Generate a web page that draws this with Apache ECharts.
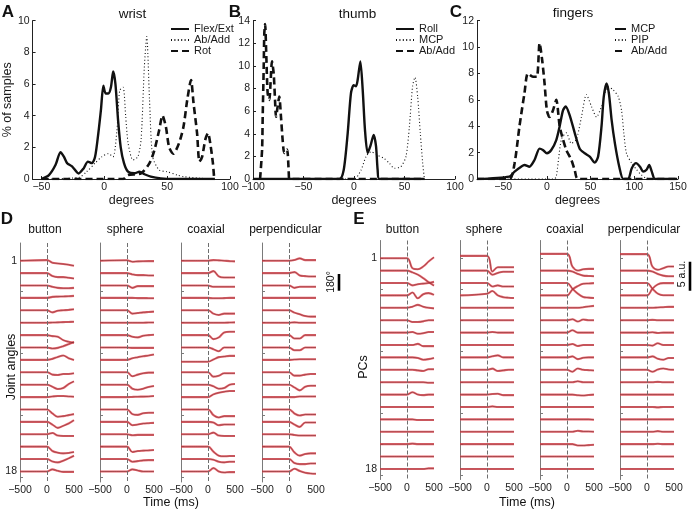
<!DOCTYPE html>
<html><head><meta charset="utf-8">
<script src="https://cdn.jsdelivr.net/npm/echarts@6/dist/echarts.min.js"></script>
<style>html,body{margin:0;padding:0;background:#fff}#c{width:692px;height:512px}</style>
</head><body><div id="c"></div>
<script>
// ---------- Panel A: wrist (degrees, % of samples) ----------
const wristFlexExt = [[-50,0],[-44,0.25],[-38.7,0.9],[-34.8,1.7],[-32,1.4],[-29.5,1.0],[-25.6,0.8],[-20.4,0.35],[-16.4,0.67],[-13,1.1],[-9.9,1.0],[-7.3,1.4],[-4.7,2.9],[-2.6,4.4],[-0.7,5.9],[1.1,5.4],[3.2,5.4],[5.3,5.8],[7.1,6.8],[8.9,6.0],[11,3.7],[13.1,2.0],[15.7,1.0],[18.9,0.46],[24,0.36],[28,0.46],[32,0.3],[37,0.15],[45,0.04],[55,0],[88,0]];
const wristAbAdd = [[-50,0],[-20,0.1],[-14,0.46],[-7.3,1.0],[-2,1.4],[3.2,1.6],[7,1.4],[10,3],[12.3,5.6],[15,5.8],[17,4],[19,2.25],[22.8,1.2],[26.7,1.4],[29.3,2.5],[31.9,7.1],[33.8,9.0],[36,5],[38.5,1.4],[43.7,0.57],[50,0.46],[58,0.25],[63,0.15],[76,0.05],[88,0]];
const wristRot = [[-50,0],[15,0],[18.9,0.25],[29.3,0.36],[36,1.0],[39.8,1.8],[43.7,3.1],[46.3,4.0],[49,3.3],[51.6,2.0],[55,1.6],[59.4,2.25],[63,3.3],[66,5.0],[69,6.25],[71,4.8],[73.8,2.9],[75.7,1.1],[77.8,1.4],[80.4,2.5],[82.5,2.9],[84.3,2.25],[86.4,1.0],[87.4,0.04]];
// ---------- Panel B: thumb ----------
const thumbRoll = [[-100,0],[-14.5,0],[-10.2,0.8],[-6.3,4.0],[-3,7.6],[-0.3,8.3],[2,8.2],[3.6,8.75],[6.3,10.4],[8.6,7.9],[10.9,4.3],[13.5,2.3],[16.2,2.9],[19.5,3.9],[21.8,2.9],[23.4,0.8],[25,0],[70,0]];
const thumbMCP = [[-100,0],[0,0],[7,0.8],[12,2.0],[16.8,2.4],[23.4,2.1],[30,1.8],[35,1.4],[40,0.95],[46.5,1.1],[51.5,2.0],[54.8,4.6],[58,8.2],[60.4,9.0],[63,7.3],[65.7,4.0],[68,1.4],[69.6,0.06]];
const thumbAbAdd = [[-93,0],[-91,2.6],[-90.4,5.5],[-89.4,9.9],[-88.8,12.9],[-88,13.7],[-87,11.4],[-85.5,7.6],[-83.8,7.0],[-82.8,8.2],[-81.2,10.4],[-79.5,9.3],[-78.2,7.0],[-77.2,5.5],[-75.6,6.4],[-74,7.3],[-72.3,5.5],[-70.6,3.4],[-69,2.3],[-66.3,2.6],[-64.7,0.8],[-64,0],[70,0]];
// ---------- Panel C: fingers ----------
const fingersMCP = [[-80,0],[-43,0.18],[-37,0.56],[-29.5,0.93],[-25.7,1.06],[-20,0.93],[-14.2,1.44],[-8.4,2.3],[-4.6,2.2],[0,1.95],[5,2.2],[10.7,2.95],[14.6,4.0],[18.4,5.2],[21.5,5.5],[26,4.85],[31.8,3.5],[37.5,2.3],[43.3,1.95],[49,1.7],[54.8,1.24],[58.6,1.7],[62.5,4.0],[65,6.2],[68.2,7.25],[70.9,6.5],[74,4.5],[77.8,2.7],[82.8,0.93],[87.4,0],[93,0],[97,0.8],[102,1.2],[106.5,0.93],[110,0.56],[114,0.7],[117,1.06],[120,0.56],[123.8,0],[149,0]];
const fingersPIP = [[-80,0],[8,0],[10.7,0.18],[16.5,3.0],[22.2,3.5],[28,2.7],[33.7,3.0],[39.5,4.7],[45.2,6.4],[51,5.5],[56.7,4.7],[62.5,5.5],[70,7.0],[75.9,6.75],[81.6,6.25],[85.4,5.2],[88,3.5],[91,1.95],[97,1.2],[102.7,0.7],[108.4,0.3],[114,0.05],[149,0]];
const fingersAbAdd = [[-80,0],[-43,0],[-37,1.2],[-31.4,4.0],[-25.7,6.5],[-21.8,8.0],[-16,7.75],[-11.5,7.75],[-8.4,10.3],[-5.4,9.0],[-2.7,7.25],[0,5.2],[3,4.7],[6.9,5.2],[10.7,6.0],[14.6,4.0],[18.4,3.0],[22.2,2.2],[28,1.44],[31.8,0.68],[35.6,0],[149,0]];

// ---------- Panels D/E: time courses (deviation from baseline) ----------
const timeMs = [-500, 0, 100, 200, 300, 400, 500];
const rowTickLabels = [1, 18];
// D: joint angles, degrees
const dButton = [[0,7,-22,-29,-36,-43,-54],[0,0,-32,-43,-43,-50,-58],[0,0,-14,-25,-29,-29,-25],[0,0,11,14,16,18,22],[0,0,-22,-4,0,5,11],[0,0,2,4,6,8,10],[0,0,-11,-18,-54,-72,-83],[0,0,-11,-4,14,36,60],[0,0,11,32,47,18,0],[0,0,-25,-29,-18,-18,-11],[0,0,-22,-47,-36,7,36],[0,0,7,11,11,7,4],[0,0,-43,-79,-72,-61,-50],[0,0,-29,-65,-43,-18,18],[0,0,14,-14,-18,-18,-18],[0,0,-47,-65,-72,-68,-58],[0,0,-25,-36,-18,7,36],[0,0,22,7,-4,-4,-4]];
const dSphere = [[0,5,-11,-7,-5,-4,-4],[0,0,-14,-22,-22,-25,-25],[0,0,-25,-7,-7,-7,-7],[0,0,0,-2,-2,-3,-4],[0,0,-36,-29,-22,-18,-14],[0,0,0,0,0,2,2],[0,0,-18,-25,-7,0,4],[0,0,-4,-4,-4,-4,-4],[0,0,18,29,40,47,58],[0,0,-43,-25,-11,-4,-4],[0,0,-43,-54,-43,-25,-14],[0,0,2,4,5,7,11],[0,0,-50,-58,-40,-36,-36],[0,0,-36,-29,-18,-14,-11],[0,0,-11,-7,-7,-7,-7],[0,0,-58,-47,-43,-40,-36],[0,0,-29,-22,-14,-11,-11],[0,0,22,11,0,0,0]];
const dCoaxial = [[0,0,7,4,0,-4,-7],[0,0,22,-36,-47,-47,-47],[0,0,-14,-14,-14,-14,-14],[0,0,-4,-4,-2,0,0],[0,0,-36,-50,-36,-36,-36],[0,0,0,0,0,2,4],[0,0,-43,-25,29,36,36],[0,0,-18,-40,0,0,0],[-20,-20,4,30,36,43,43],[0,0,-47,-36,-11,-11,-11],[0,0,-18,-43,-36,0,7],[0,0,29,47,58,65,65],[0,0,-61,-86,-72,-72,-72],[0,0,-7,-36,-29,-29,-29],[0,0,18,-14,-18,-18,-18],[0,0,-54,-97,-104,-101,-101],[0,0,-7,-29,-36,-29,-29],[0,0,36,0,-11,-7,-7]];
const dPerpendicular = [[0,0,7,25,7,7,7],[0,0,11,-25,-32,-36,-36],[0,0,-25,-14,-14,-14,-14],[0,0,0,0,0,0,0],[0,0,-25,-43,-61,-68,-68],[0,0,4,0,0,0,0],[0,0,-36,-36,0,0,0],[0,0,-29,-29,0,0,0],[0,0,4,7,7,7,7],[0,0,-36,-36,-25,-18,-18],[0,0,-29,-61,-22,-11,-11],[0,0,0,7,7,7,7],[0,0,-43,-65,-54,-54,-54],[0,0,-29,-54,-7,-7,-7],[0,0,-7,-14,-14,-14,-14],[0,0,-61,-97,-79,-72,-72],[0,0,-43,-54,-54,-47,-47],[0,0,29,4,-14,-22,-25]];
// E: principal components, a.u.
const eButton = [[0,0,-1.72,-1.9,-1.43,-0.57,0.17],[0,0,-0.3,-0.7,-1.3,-2.0,-2.6],[0,0,-0.4,-0.2,-0.1,0,0.2],[0,0,0.5,-0.5,0.2,0.4,0.1],[0,0,0.2,0.5,0.2,0,-0.1],[0,0,-0.3,-0.3,-0.2,0,0],[0,0,0.1,-0.2,-0.1,0.1,0.1],[0,0,0,0.2,-0.2,-0.2,-0.2],[0,0,0,-0.1,-0.4,-0.3,-0.1],[0,0,0,-0.1,-0.2,0.1,0.1],[0,0,0,0,0,-0.1,-0.1],[0,0,0.4,0,-0.1,0,0],[0,0,0,0,0,0,0],[0,0,0,-0.1,-0.1,-0.1,-0.1],[0,0,0,0,0,0,0],[0,0,0.1,0,0,0,0],[0,0,0,0,0,0,0],[0,0,0,0,0,0.1,0.1]];
const eSphere = [[0.4,0.4,-2.3,-1.55,-1.55,-1.55,-1.55],[0,0,-0.7,-0.4,-0.2,-0.2,-0.2],[0,0,-0.6,-0.4,-0.6,-0.6,-0.6],[0,0.3,0.75,0,-0.3,-0.4,-0.45],[0,0,0,0,0,0,0],[0,0,0,0,0,0,0],[0,0,0.1,0,0,0,0],[0,0,0,0,0,0,0],[0,0,0.2,0.35,0,0,0],[0,0,0.2,-0.2,-0.1,0,0],[0,0,0,0,0,0,0],[0,0,0.1,0.15,-0.1,-0.1,-0.1],[0,0,0.1,0,0,0,0],[0,0,0,0,0,0,0],[0,0,0,0,0,0,0],[0,0,0,0,0,0,0],[0,0,0,0,0,0,0],[0,0,0,0,0,0,0]];
const eCoaxial = [[0.75,0.75,-1.43,-2.12,-1.9,-1.84,-1.84],[0,0,-0.17,-0.57,-0.86,-0.92,-0.97],[0,0,-0.97,-1.84,-2.41,-2.52,-2.58],[0,0,1.03,1.61,2.01,2.06,2.12],[0,0,0,0,0.11,0.23,0.34],[0,0,0.17,-0.23,0.11,0,0],[0,0,0.4,0,0,0,0],[0,0,0.17,-0.17,0,0,0],[0,0,0.17,-0.3,-0.06,0,0],[0,0,-0.34,0.23,0,-0.06,-0.11],[0,0,0,0.17,0,0,0],[0,0,0,-0.11,-0.17,-0.06,0],[0,0,0,0,0,0,0],[0,0,0,0,0,0,-0.06],[0,0,0,0.17,0.06,0.06,0],[0,0,0,-0.23,-0.23,-0.17,-0.11],[0,0,0,0,0,0,0],[0,0,0,0,0,0,0]];
const ePerpendicular = [[0.7,0.7,-1.43,-2.0,-1.72,-1.43,-1.43],[0,0,-0.17,-0.57,-0.86,-0.97,-0.97],[0,0,-0.97,-1.84,-2.12,-2.12,-2.12],[0,0,1.15,1.9,2.12,2.12,2.12],[0,0,0,0.06,0.11,0.17,0.17],[0,0,0.06,0,0,0,0],[0,0,0.06,-0.06,0,0,0],[0,0,-0.11,0.29,0,0,0],[0,0,0.17,-0.23,-0.4,-0.11,-0.11],[0,0,-0.34,0.06,0.23,0.06,0],[0,0,0,0.06,0,0,0],[0,0,0,0,0,0,0],[0,0,0,-0.06,0,0,0],[0,0,0,0,0,0,0],[0,0,0,0.11,0,0,0],[0,0,0,0.06,0,0,0],[0,0,0,0,0,0,0],[0,0,0,0,0,0,0]];

// scale bars
const scaleBarDeg = 180;   // degrees
const scaleBarAU = 5;      // a.u.
const degPerRow = 133.6;   // row spacing expressed in degrees
const auPerRow = 2.138;    // row spacing expressed in a.u.

// ---------- build ----------
const FONT = '"Liberation Sans", Arial, Helvetica, sans-serif';
const TXT = '#1a1a1a';
const minus = v => String(v).replace('-', '\u2212');
const styles = {
  solid: {type: 'solid', width: 2.4},
  dashed: {type: [7, 4], width: 2.6},
  dotted: {type: [1, 2.4], width: 1.1}
};

const topPanels = [
  {key: 'A', left: 30, width: 200, xmin: -57, xmax: 100, xticks: [-50, 0, 50, 100], ymax: 10, legendLeft: 170, iconW: 18,
   lines: [['Flex/Ext', wristFlexExt, 'solid'], ['Ab/Add', wristAbAdd, 'dotted'], ['Rot', wristRot, 'dashed']]},
  {key: 'B', left: 253, width: 202, xmin: -100, xmax: 100, xticks: [-100, -50, 0, 50, 100], ymax: 14, legendLeft: 395, iconW: 18,
   lines: [['Roll', thumbRoll, 'solid'], ['MCP', thumbMCP, 'dotted'], ['Ab/Add', thumbAbAdd, 'dashed']]},
  {key: 'C', left: 477, width: 201, xmin: -80, xmax: 150, xticks: [-50, 0, 50, 100, 150], ymax: 12, legendLeft: 614, iconW: 11,
   lines: [['MCP', fingersMCP, 'solid'], ['PIP', fingersPIP, 'dotted'], ['Ab/Add', fingersAbAdd, 'dashed']]}
];

const grids = [], xAxes = [], yAxes = [], series = [], legends = [];

topPanels.forEach((p, i) => {
  grids.push({left: p.left, top: 20.7, width: p.width, height: 158.3});
  xAxes.push({
    type: 'value', gridIndex: i, min: p.xmin, max: p.xmax,
    axisLine: {onZero: false, lineStyle: {color: '#222', width: 1}},
    axisTick: {inside: true, length: 3, customValues: p.xticks, lineStyle: {color: '#222'}},
    axisLabel: {customValues: p.xticks, formatter: minus, fontSize: 10.5, fontFamily: FONT, color: TXT, margin: 3},
    splitLine: {show: false},
    name: 'degrees', nameLocation: 'middle', nameGap: 11,
    nameTextStyle: {fontSize: 12.5, fontFamily: FONT, color: TXT, verticalAlign: 'top'}
  });
  yAxes.push({
    type: 'value', gridIndex: i, min: 0, max: p.ymax, interval: 2,
    axisLine: {show: true, onZero: false, lineStyle: {color: '#222', width: 1}},
    axisTick: {show: true, inside: true, length: 3, lineStyle: {color: '#222'}},
    axisLabel: {fontSize: 10.5, fontFamily: FONT, color: TXT, margin: 3},
    splitLine: {show: false},
    name: i === 0 ? '% of samples' : '', nameLocation: 'middle', nameGap: 14,
    nameTextStyle: {fontSize: 12.5, fontFamily: FONT, color: TXT}
  });
  const names = [];
  p.lines.forEach(([nm, data, st]) => {
    const full = p.key + '|' + nm;
    names.push(full);
    series.push({
      name: full, type: 'line', xAxisIndex: i, yAxisIndex: i, data: data,
      symbol: 'none', showSymbol: false, smooth: 0.25, color: '#111',
      lineStyle: Object.assign({color: '#111'}, styles[st]), z: st === 'solid' ? 3 : 2
    });
  });
  legends.push({
    data: names, orient: 'vertical', left: p.legendLeft, top: 23.5, padding: 0,
    itemWidth: p.iconW, itemHeight: 11, itemGap: 0, selectedMode: false,
    itemStyle: {opacity: 0},
    formatter: n => n.split('|')[1],
    textStyle: {fontSize: 11, fontFamily: FONT, color: TXT}
  });
});

const rowTicks = [1, 3.5, 6, 8.5, 11, 13.5, 16, 18.5];
const bottomPanels = [
  {rows: dButton, left: 20, top: 243, per: degPerRow, labels: true},
  {rows: dSphere, left: 100, top: 243, per: degPerRow},
  {rows: dCoaxial, left: 181, top: 243, per: degPerRow},
  {rows: dPerpendicular, left: 262, top: 243, per: degPerRow},
  {rows: eButton, left: 380, top: 240.5, per: auPerRow, labels: true},
  {rows: eSphere, left: 460, top: 240.5, per: auPerRow},
  {rows: eCoaxial, left: 540, top: 240.5, per: auPerRow},
  {rows: ePerpendicular, left: 620, top: 240.5, per: auPerRow}
];
const ROWMIN = -0.43, ROWMAX = 18.85;

bottomPanels.forEach(p => {
  const gi = grids.length;
  grids.push({left: p.left, top: p.top, width: 54, height: 239});
  xAxes.push({
    type: 'value', gridIndex: gi, min: -500, max: 500, interval: 500,
    axisLine: {show: false}, axisTick: {show: false}, splitLine: {show: false},
    axisLabel: {formatter: minus, fontSize: 10.5, fontFamily: FONT, color: TXT, margin: 3}
  });
  yAxes.push({
    type: 'value', gridIndex: gi, inverse: true, min: ROWMIN, max: ROWMAX,
    axisLine: {show: true, onZero: false, lineStyle: {color: '#7a7a7a', width: 1}},
    axisTick: {show: true, inside: true, length: 3, customValues: rowTicks, lineStyle: {color: '#7a7a7a'}},
    axisLabel: {show: !!p.labels, customValues: rowTickLabels, fontSize: 10.5, fontFamily: FONT, color: TXT, margin: 3},
    splitLine: {show: false}
  });
  p.rows.forEach((r, i) => {
    const data = timeMs.map((t, k) => [t, (i + 1) - r[k] / p.per]);
    const red = {
      type: 'line', xAxisIndex: gi, yAxisIndex: gi, data: data, symbol: 'none', smooth: 0.35,
      lineStyle: {color: '#e44a53', width: 2.1, opacity: 0.85}, z: 2, silent: true
    };
    if (i === 0) {
      red.markLine = {
        silent: true, symbol: 'none', label: {show: false},
        lineStyle: {color: '#6e6e6e', type: 'dashed', width: 1},
        data: [{xAxis: 0}]
      };
    }
    series.push(red);
    series.push({
      type: 'line', xAxisIndex: gi, yAxisIndex: gi, data: data, symbol: 'none', smooth: 0.35,
      lineStyle: {color: '#6a2c2e', width: 0.65, opacity: 0.8}, z: 3, silent: true
    });
  });
});

// scale bars drawn through their own row scales
const bars = [
  {left: 337, top: 243, start: 2.07, len: scaleBarDeg / degPerRow},
  {left: 688, top: 240.5, start: 1.28, len: scaleBarAU / auPerRow}
];
bars.forEach(b => {
  const gi = grids.length;
  grids.push({left: b.left, top: b.top, width: 4, height: 239});
  xAxes.push({type: 'value', gridIndex: gi, min: 0, max: 1, show: false});
  yAxes.push({type: 'value', gridIndex: gi, inverse: true, min: ROWMIN, max: ROWMAX, show: false});
  series.push({type: 'line', xAxisIndex: gi, yAxisIndex: gi, symbol: 'none',
    data: [[0.5, b.start], [0.5, b.start + b.len]], lineStyle: {color: '#000', width: 2.6}, silent: true});
});

function txt(s, x, y, size, opts) {
  opts = opts || {};
  return {
    type: 'text', x: x, y: y, rotation: opts.rot || 0, silent: true,
    style: {text: s, fontSize: size, fontFamily: FONT, fontWeight: opts.bold ? 'bold' : 'normal', fill: '#111',
      textAlign: 'center', textVerticalAlign: 'middle', align: 'center', verticalAlign: 'middle'}
  };
}
const R = Math.PI / 2;
const graphics = [
  txt('A', 8, 12, 17, {bold: true}), txt('B', 235, 12, 17, {bold: true}), txt('C', 456, 12, 17, {bold: true}),
  txt('D', 7, 219, 17, {bold: true}), txt('E', 359, 219, 17, {bold: true}),
  txt('wrist', 132.5, 14, 13.5), txt('thumb', 357.5, 14, 13.5), txt('fingers', 573, 13, 13.5),
  txt('button', 45, 230, 12), txt('sphere', 125, 230, 12), txt('coaxial', 206, 230, 12), txt('perpendicular', 285.5, 230, 12),
  txt('button', 402.5, 230, 12), txt('sphere', 484, 230, 12), txt('coaxial', 565, 230, 12), txt('perpendicular', 644, 230, 12),
  txt('Joint angles', 12, 367, 12.5, {rot: R}), txt('PCs', 364, 367, 12.5, {rot: R}),
  txt('Time (ms)', 171, 503, 12.5), txt('Time (ms)', 527, 503, 12.5),
  txt('180\u00b0', 331, 282, 10.5, {rot: R}), txt('5 a.u.', 682, 274, 10.5, {rot: R})
];

const chart = echarts.init(document.getElementById('c'));
chart.setOption({
  animation: false,
  backgroundColor: '#fff',
  grid: grids, xAxis: xAxes, yAxis: yAxes, series: series, legend: legends,
  graphic: graphics
});
</script></body></html>
